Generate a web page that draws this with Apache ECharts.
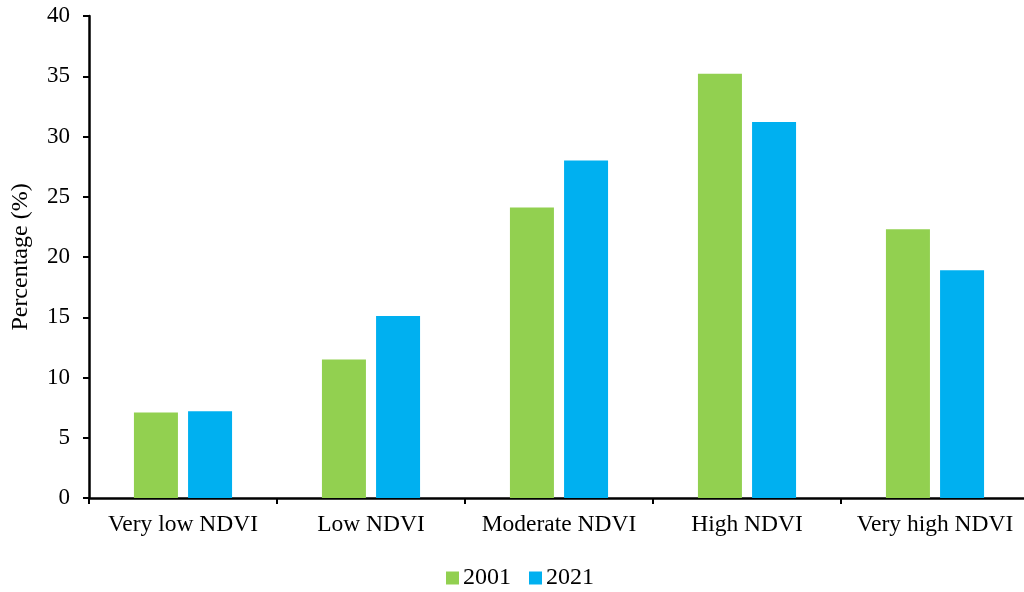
<!DOCTYPE html>
<html>
<head>
<meta charset="utf-8">
<script src="https://cdn.jsdelivr.net/npm/echarts@6/dist/echarts.min.js"></script>
<style>
  html, body { margin: 0; padding: 0; background: #fff; overflow: hidden; }
  #chart { width: 1032px; height: 592px; }
</style>
</head>
<body>
<div id="chart"></div>
<script>
  // values
  const categories = ['Very low NDVI', 'Low NDVI', 'Moderate NDVI', 'High NDVI', 'Very high NDVI']
  const y2001 = [7.1, 11.5, 24.1, 35.2, 22.3]
  const y2021 = [7.2, 15.1, 28.0, 31.2, 18.9]
  const yTicks = { min: 0, max: 40, interval: 5 }

  const font = 'Liberation Serif, Times New Roman, serif'
  // the original plot runs a few pixels past the right edge of the picture,
  // so the canvas is a bit wider than the window and gets cut off
  const chart = echarts.init(document.getElementById('chart'))

  chart.setOption({
    animation: false,
    textStyle: { fontFamily: font, color: '#000' },
    grid: {
      left: 89,
      right: 3,
      top: 16,
      bottom: 94,
      containLabel: false
    },
    legend: {
      data: ['2001', '2021'],
      top: 561,
      left: 441,
      itemWidth: 13,
      itemHeight: 13,
      itemGap: 18,
      icon: 'rect',
      textStyle: { fontFamily: font, fontSize: 24, color: '#000', padding: [2, 0, 0, -1] }
    },
    xAxis: {
      type: 'category',
      data: categories,
      axisLine: { lineStyle: { color: '#000', width: 2.5 } },
      axisTick: { show: true, interval: 0, alignWithLabel: false, length: 6, lineStyle: { color: '#000', width: 2 } },
      axisLabel: { interval: 0, fontFamily: font, fontSize: 23.5, color: '#000', margin: 15 }
    },
    yAxis: {
      type: 'value',
      min: yTicks.min,
      max: yTicks.max,
      interval: yTicks.interval,
      name: 'Percentage (%)',
      nameLocation: 'middle',
      nameGap: 56,
      nameTextStyle: { fontFamily: font, fontSize: 24, color: '#000' },
      axisLine: { show: true, lineStyle: { color: '#000', width: 2.5 } },
      axisTick: { show: true, length: 6, lineStyle: { color: '#000', width: 2 } },
      axisLabel: { fontFamily: font, fontSize: 23, color: '#000', margin: 19 },
      splitLine: { show: false }
    },
    series: [
      {
        name: '2001',
        type: 'bar',
        data: y2001,
        barWidth: 44,
        barGap: '23%',
        itemStyle: { color: '#92D050' }
      },
      {
        name: '2021',
        type: 'bar',
        data: y2021,
        barWidth: 44,
        itemStyle: { color: '#00B0F0' }
      }
    ]
  })
</script>
</body>
</html>
